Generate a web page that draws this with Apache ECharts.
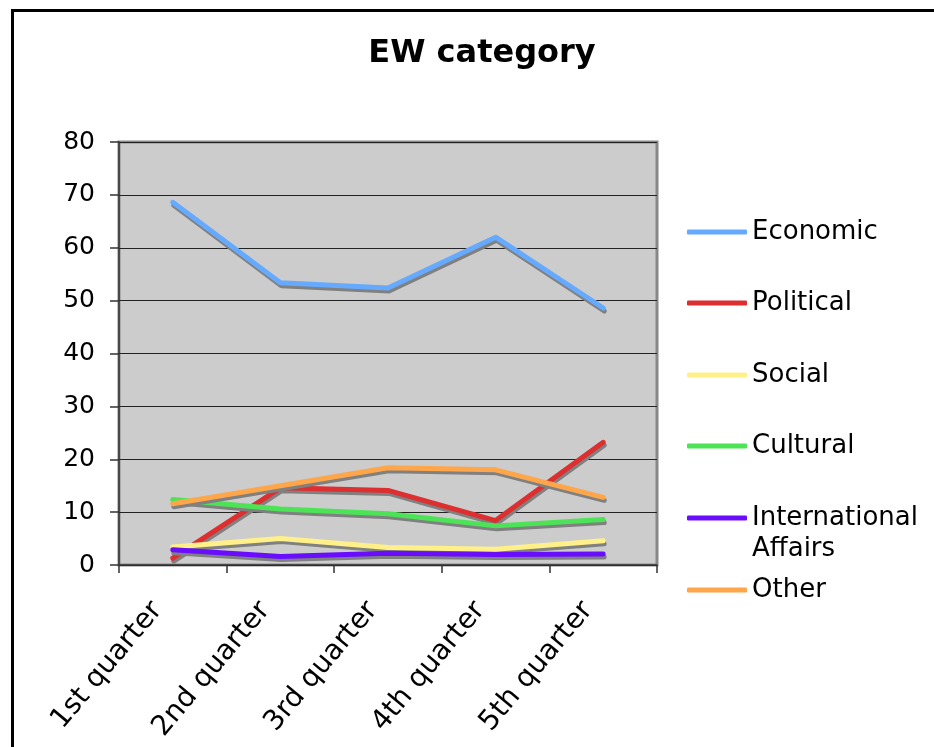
<!DOCTYPE html>
<html>
<head>
<meta charset="utf-8">
<title>EW category</title>
<script src="https://cdn.jsdelivr.net/npm/echarts@6/dist/echarts.min.js"></script>
<style>
  html, body { margin: 0; padding: 0; background: #ffffff; }
  #chart { width: 934px; height: 747px; }
</style>
</head>
<body>
<div id="chart"></div>
<script>
// Quarters on the x axis
const quarters = ['1st quarter', '2nd quarter', '3rd quarter', '4th quarter', '5th quarter'];

// Share per category, one value per quarter
const economic      = [68.6, 53.4, 52.4, 62.0, 48.6];
const political     = [1.3, 14.6, 14.1, 8.4, 23.2];
const social        = [3.4, 5.0, 3.3, 3.0, 4.6];
const cultural      = [12.4, 10.6, 9.7, 7.4, 8.6];
const international = [2.9, 1.6, 2.2, 2.0, 2.1];
const other         = [11.6, 15.0, 18.4, 18.0, 12.8];

// Value axis ticks
const yTicks = [0, 10, 20, 30, 40, 50, 60, 70, 80];

const FONT = '"DejaVu Sans", Verdana, sans-serif';

const seriesDefs = [
  { name: 'Economic', data: economic, color: '#66aaff' },
  { name: 'Political', data: political, color: '#dd2e30' },
  { name: 'Social', data: social, color: '#fff08a' },
  { name: 'Cultural', data: cultural, color: '#4ce456' },
  { name: 'International Affairs', data: international, color: '#6a0dff' },
  { name: 'Other', data: other, color: '#ffa64a' }
];

// Legend row centres (vertical legend to the right of the plot)
const legendCenters = [232, 303, 375, 446, 518, 590];

const legends = seriesDefs.map(function (s, i) {
  const twoLine = s.name === 'International Affairs';
  const lh = twoLine ? 31 : 30;
  // the two-line entry carries an empty first line so its icon sits on "International"
  const blockHalf = twoLine ? 46.5 : 15;
  return {
    data: [s.name],
    orient: 'vertical',
    left: 687,
    top: legendCenters[i] - blockHalf,
    padding: 0,
    icon: 'roundRect',
    itemWidth: 60,
    itemHeight: 5,
    itemGap: 0,
    selectedMode: false,
    formatter: function (name) {
      return name === 'International Affairs' ? ' \nInternational\nAffairs' : name;
    },
    textStyle: {
      fontFamily: FONT,
      fontSize: 26,
      color: '#000000',
      lineHeight: lh
    }
  };
});

const chart = echarts.init(document.getElementById('chart'), null, { renderer: 'canvas' });

chart.setOption({
  animation: false,
  backgroundColor: '#ffffff',
  title: {
    text: 'EW category',
    left: 477,
    textAlign: 'center',
    top: 33,
    textStyle: {
      fontFamily: FONT,
      fontSize: 32,
      fontWeight: 'bold',
      color: '#000000'
    }
  },
  graphic: [
    {
      type: 'rect',
      z: -1,
      shape: { x: 12.5, y: 10.5, width: 1000, height: 800 },
      style: { fill: 'none', stroke: '#000000', lineWidth: 3 }
    }
  ],
  legend: legends,
  grid: {
    left: 119,
    top: 142,
    width: 538,
    height: 423,
    show: true,
    backgroundColor: '#cccccc',
    borderColor: '#888888',
    borderWidth: 3,
    containLabel: false
  },
  xAxis: {
    type: 'category',
    data: quarters,
    boundaryGap: true,
    axisLine: { show: true, lineStyle: { color: '#333333', width: 1.5 } },
    axisTick: { show: true, length: 8, alignWithLabel: false, lineStyle: { color: '#333333', width: 1.5 } },
    axisLabel: {
      rotate: 50,
      interval: 0,
      margin: 22,
      padding: [0, 24, 0, 0],
      fontFamily: FONT,
      fontSize: 28,
      color: '#000000'
    },
    splitLine: { show: false }
  },
  yAxis: {
    type: 'value',
    min: yTicks[0],
    max: yTicks[yTicks.length - 1],
    interval: yTicks[1] - yTicks[0],
    axisLine: { show: true, lineStyle: { color: '#333333', width: 1.5 } },
    axisTick: { show: true, length: 9, lineStyle: { color: '#333333', width: 1.5 } },
    axisLabel: {
      margin: 24,
      fontFamily: FONT,
      fontSize: 25,
      color: '#000000'
    },
    splitLine: { show: true, lineStyle: { color: '#222222', width: 1 } }
  },
  series: seriesDefs.map(function (s) {
    return {
      name: s.name,
      type: 'line',
      data: s.data,
      showSymbol: false,
      symbol: 'none',
      color: s.color,
      lineStyle: {
        color: s.color,
        width: 5,
        cap: 'round',
        join: 'round',
        shadowColor: '#808080',
        shadowBlur: 0,
        shadowOffsetX: 1,
        shadowOffsetY: 3
      },
      itemStyle: { color: s.color },
      emphasis: { disabled: true }
    };
  })
});
</script>
</body>
</html>
